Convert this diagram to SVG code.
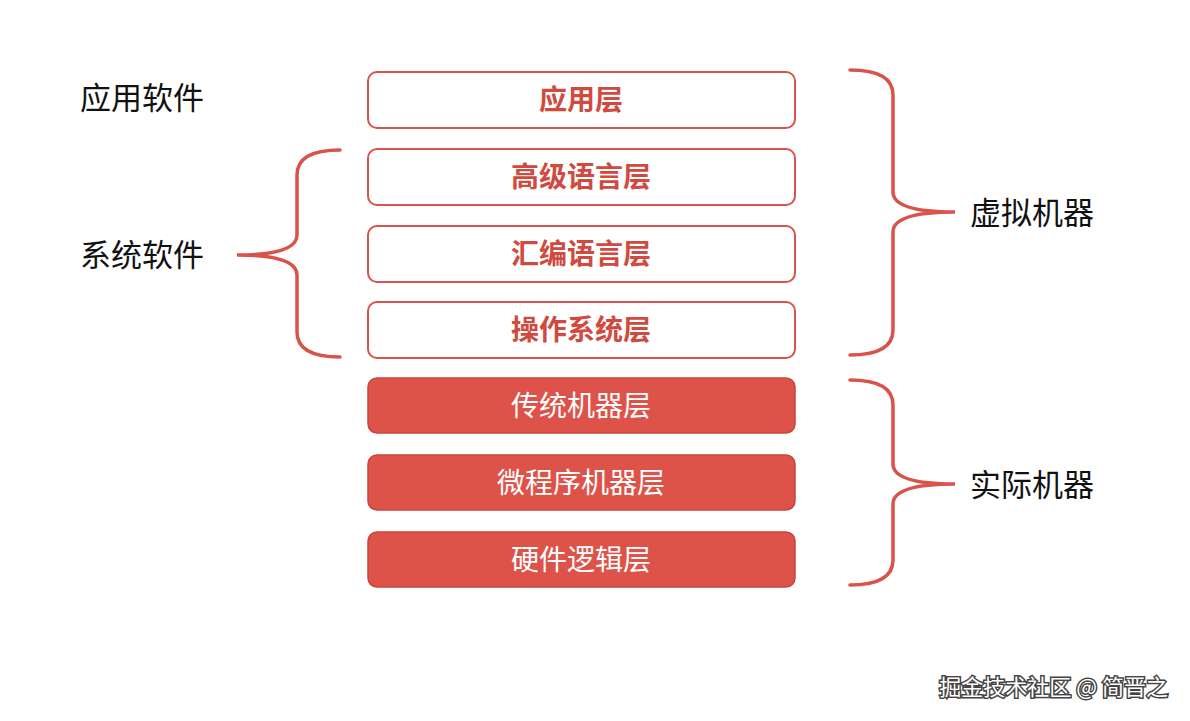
<svg xmlns="http://www.w3.org/2000/svg" width="1190" height="721" viewBox="0 0 1190 721">
<style>
.o{fill:#fff;stroke:#d9534a;stroke-width:2}
.f{fill:#de5349;stroke:#c8463d;stroke-width:1.5}
.t{font-family:"Noto Sans CJK SC",sans-serif;font-size:28px;text-anchor:middle}
.tb{fill:#d04a40;font-weight:bold}
.tw{fill:#fff}
.l{font-family:"Noto Sans CJK SC",sans-serif;font-size:31px;fill:#111}
.br{fill:none;stroke:#d9534a;stroke-width:3.5;stroke-linecap:round}
</style>
<rect width="1190" height="721" fill="#fff"/>
<g id="n1"><rect class="o" x="368" y="72" width="427" height="56" rx="9"/><text class="t tb" x="581" y="110">应用层</text></g>
<g id="n2"><rect class="o" x="368" y="149" width="427" height="56" rx="9"/><text class="t tb" x="581" y="187">高级语言层</text></g>
<g id="n3"><rect class="o" x="368" y="226" width="427" height="56" rx="9"/><text class="t tb" x="581" y="264">汇编语言层</text></g>
<g id="n4"><rect class="o" x="368" y="302" width="427" height="56" rx="9"/><text class="t tb" x="581" y="340">操作系统层</text></g>
<g id="n5"><rect class="f" x="368" y="378" width="427" height="55" rx="9"/><text class="t tw" x="581" y="416">传统机器层</text></g>
<g id="n6"><rect class="f" x="368" y="455" width="427" height="55" rx="9"/><text class="t tw" x="581" y="493">微程序机器层</text></g>
<g id="n7"><rect class="f" x="368" y="532" width="427" height="55" rx="9"/><text class="t tw" x="581" y="570">硬件逻辑层</text></g>
<g id="labels">
<text class="l" x="80" y="109">应用软件</text>
<text class="l" x="80" y="266">系统软件</text>
<text class="l" x="970" y="224">虚拟机器</text>
<text class="l" x="970" y="496">实际机器</text>
</g>
<g id="connectors">
<path class="br" d="M340,150 Q297,150 297,175 L297,235 Q297,255 237,255 Q297,255 297,275 L297,332 Q297,357 340,357"/>
<path class="br" d="M850,70 Q893,70 893,95 L893,192 Q893,212 955,212 Q893,212 893,232 L893,330 Q893,355 850,355"/>
<path class="br" d="M850,380 Q893,380 893,405 L893,464 Q893,484 955,484 Q893,484 893,504 L893,560 Q893,585 850,585"/>
</g>
<text x="1168" y="695" font-family="Noto Sans CJK SC,sans-serif" font-size="22" text-anchor="end" fill="#fff" stroke="#444" stroke-width="3" paint-order="stroke">掘金技术社区 @ 简晋之</text>
</svg>
